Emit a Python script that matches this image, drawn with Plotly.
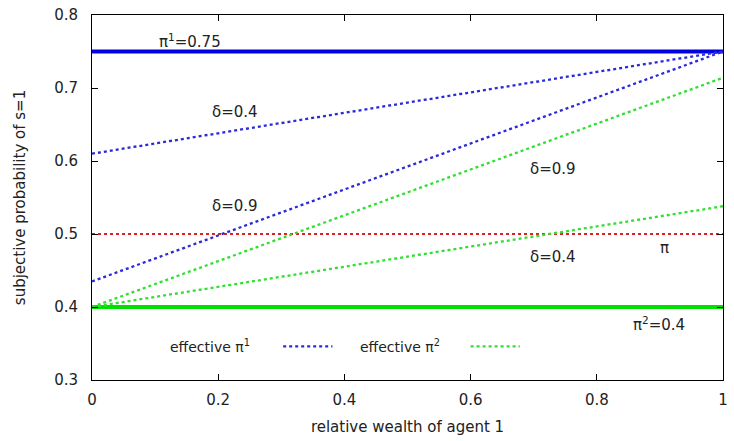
import plotly.graph_objects as go

# data
w = [0.0, 1.0]
pi1 = [0.75, 0.75]
pi2 = [0.4, 0.4]
pi_mkt = [0.5, 0.5]
eff_pi1_d04 = [0.61, 0.75]
eff_pi1_d09 = [0.435, 0.75]
eff_pi2_d09 = [0.4, 0.714]
eff_pi2_d04 = [0.4, 0.538]

BLUE = "#0000e0"
DBLUE = "#2a2ad8"
GREEN = "#00e000"
DGREEN = "#30e030"
RED = "#e02020"
FONT = "DejaVu Sans"
FS = 15

fig = go.Figure()
fig.add_trace(go.Scatter(x=w, y=pi1, mode="lines", line=dict(color=BLUE, width=4), showlegend=False))
fig.add_trace(go.Scatter(x=w, y=pi2, mode="lines", line=dict(color=GREEN, width=4), showlegend=False))
fig.add_trace(go.Scatter(x=w, y=pi_mkt, mode="lines", line=dict(color=RED, width=2, dash="dot"), showlegend=False))
for ys in (eff_pi1_d04, eff_pi1_d09):
    fig.add_trace(go.Scatter(x=w, y=ys, mode="lines", line=dict(color=DBLUE, width=2.3, dash="dot"), showlegend=False))
for ys in (eff_pi2_d09, eff_pi2_d04):
    fig.add_trace(go.Scatter(x=w, y=ys, mode="lines", line=dict(color=DGREEN, width=2.3, dash="dot"), showlegend=False))

labels = [
    (0.156, 0.765, "π<sup>1</sup>=0.75"),
    (0.226, 0.667, "δ=0.4"),
    (0.226, 0.538, "δ=0.9"),
    (0.731, 0.589, "δ=0.9"),
    (0.731, 0.469, "δ=0.4"),
    (0.907, 0.481, "π"),
    (0.898, 0.377, "π<sup>2</sup>=0.4"),
]
for x, y, t in labels:
    fig.add_annotation(x=x, y=y, text=t, showarrow=False, font=dict(family=FONT, size=FS, color="#222"))

# manual legend (gnuplot style: text then sample)
fig.add_annotation(x=0.254, y=0.346, text="effective π<sup>1</sup>", xanchor="right", showarrow=False,
                   font=dict(family=FONT, size=14, color="#222"))
fig.add_annotation(x=0.555, y=0.346, text="effective π<sup>2</sup>", xanchor="right", showarrow=False,
                   font=dict(family=FONT, size=14, color="#222"))
fig.add_shape(type="line", xref="x", yref="y", x0=0.303, x1=0.381, y0=0.346, y1=0.346,
              line=dict(color=DBLUE, width=2.3, dash="dot"))
fig.add_shape(type="line", xref="x", yref="y", x0=0.6, x1=0.678, y0=0.346, y1=0.346,
              line=dict(color=DGREEN, width=2.3, dash="dot"))

fig.update_layout(
    width=734, height=441,
    margin=dict(l=92, r=6, t=9, b=61),
    paper_bgcolor="white", plot_bgcolor="white",
    font=dict(family=FONT, size=FS, color="#222"),
    xaxis=dict(range=[0, 1], tickvals=[0, 0.2, 0.4, 0.6, 0.8, 1], ticktext=["0", "0.2", "0.4", "0.6", "0.8", "1"],
               showgrid=False, zeroline=False, showline=True, linecolor="black", linewidth=1, mirror="ticks",
               ticks="inside", ticklen=6, tickcolor="black", ticklabelstandoff=6,
               title=dict(text="relative wealth of agent 1", font=dict(size=FS), standoff=13)),
    yaxis=dict(range=[0.3, 0.8], tickvals=[0.3, 0.4, 0.5, 0.6, 0.7, 0.8],
               ticktext=["0.3", "0.4", "0.5", "0.6", "0.7", "0.8"],
               showgrid=False, zeroline=False, showline=True, linecolor="black", linewidth=1, mirror="ticks",
               ticks="inside", ticklen=6, tickcolor="black", ticklabelstandoff=10,
               title=dict(text="subjective probability of s=1", font=dict(size=FS), standoff=24)),
)

fig.write_html("out.html", config={"displayModeBar": False},
               post_script="document.body.style.margin='0';")
